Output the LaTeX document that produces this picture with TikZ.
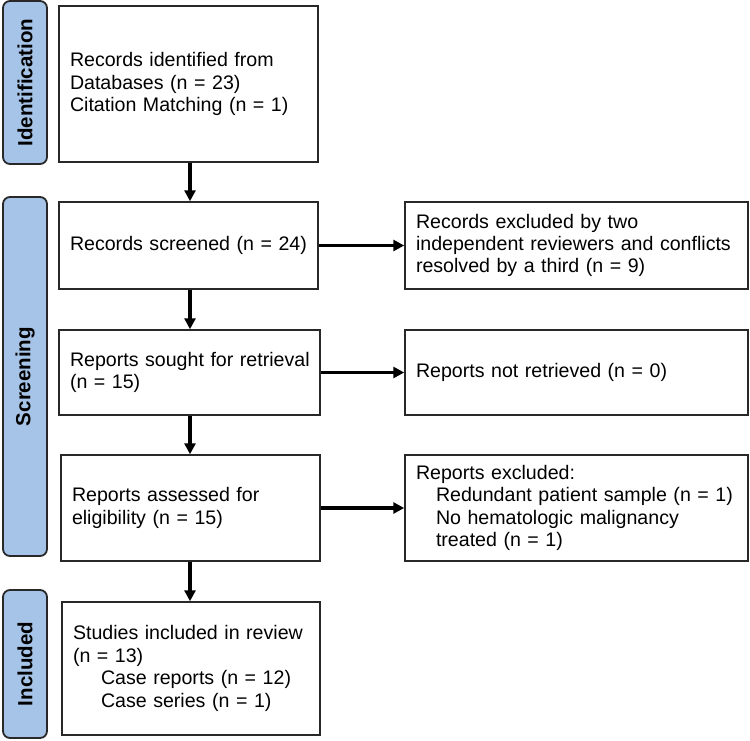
\documentclass[tikz,border=0pt]{standalone}
\usepackage{fontspec}
\setmainfont{Liberation Sans}
\usetikzlibrary{arrows.meta}
\definecolor{barblue}{RGB}{166,196,232}
\definecolor{edge}{RGB}{40,40,40}
\begin{document}
\begin{tikzpicture}[x=1pt,y=-1pt,
  box/.style={draw=edge, line width=1.5pt, fill=white, align=left, inner xsep=11pt, inner ysep=0pt,
    font=\fontsize{19.6}{22.4}\selectfont},
  sidebar/.style={draw=edge, line width=1.8pt, fill=barblue, rounded corners=7pt, inner sep=0pt,
    minimum width=44pt},
  barlabel/.style={rotate=90, font=\bfseries\fontsize{20.5}{22}\selectfont},
  flow/.style={line width=3.3pt, -{Triangle[length=11pt,width=11pt]}}]
\useasboundingbox (0,0) rectangle (750,740);

% side bars
\node[sidebar, minimum height=163pt] (s1) at (25,82.5) {};
\node[barlabel] (t1) at (s1.center) {Identification};
\node[sidebar, minimum height=359pt] (s2) at (25,376.5) {};
\node[barlabel] (t2) at (s2.center) {Screening};
\node[sidebar, minimum height=148pt] (s3) at (25,664) {};
\node[barlabel] (t3) at (s3.center) {Included};

% main boxes
\node[box, text width=237pt, minimum height=156pt] (b1) at (188.5,84)
  {Records identified from\\Databases (n = 23)\\Citation Matching (n = 1)};
\node[box, text width=237pt, minimum height=87pt] (b2) at (188.5,245.5)
  {Records screened (n = 24)};
\node[box, text width=239pt, minimum height=85pt] (b3) at (189.5,372.5)
  {\mbox{Reports sought for retrieval}\\(n = 15)};
\node[box, text width=237pt, minimum height=106pt] (b4) at (190.5,508)
  {Reports assessed for\\eligibility (n = 15)};
\node[box, text width=236pt, minimum height=133pt] (b5) at (191,668.5)
  {Studies included in review\\(n = 13)\\\hspace*{28pt}Case reports (n = 12)\\\hspace*{28pt}Case series (n = 1)};

% excluded boxes
\node[box, text width=321pt, minimum height=87pt] (e1) at (576.5,245.5)
  {Records excluded by two\\independent reviewers and conflicts\\resolved by a third (n = 9)};
\node[box, text width=321pt, minimum height=85pt] (e2) at (576.5,372.5)
  {Reports not retrieved (n = 0)};
\node[box, text width=321pt, minimum height=106pt] (e3) at (576.5,508)
  {Reports excluded:\\\hspace*{20pt}Redundant patient sample (n = 1)\\\hspace*{20pt}No hematologic malignancy\\\hspace*{20pt}treated (n = 1)};

% vertical arrows
\coordinate (c1) at (190,0);
\draw[flow] (b1.south -| c1) -- (b2.north -| c1);
\draw[flow] (b2.south -| c1) -- (b3.north -| c1);
\draw[flow] (b3.south -| c1) -- (b4.north -| c1);
\draw[flow] (b4.south -| c1) -- (b5.north -| c1);

% horizontal arrows
\draw[flow] (b2.east) -- (e1.west);
\draw[flow] (b3.east) -- (e2.west);
\draw[flow] (b4.east) -- (e3.west);
\end{tikzpicture}
\end{document}
